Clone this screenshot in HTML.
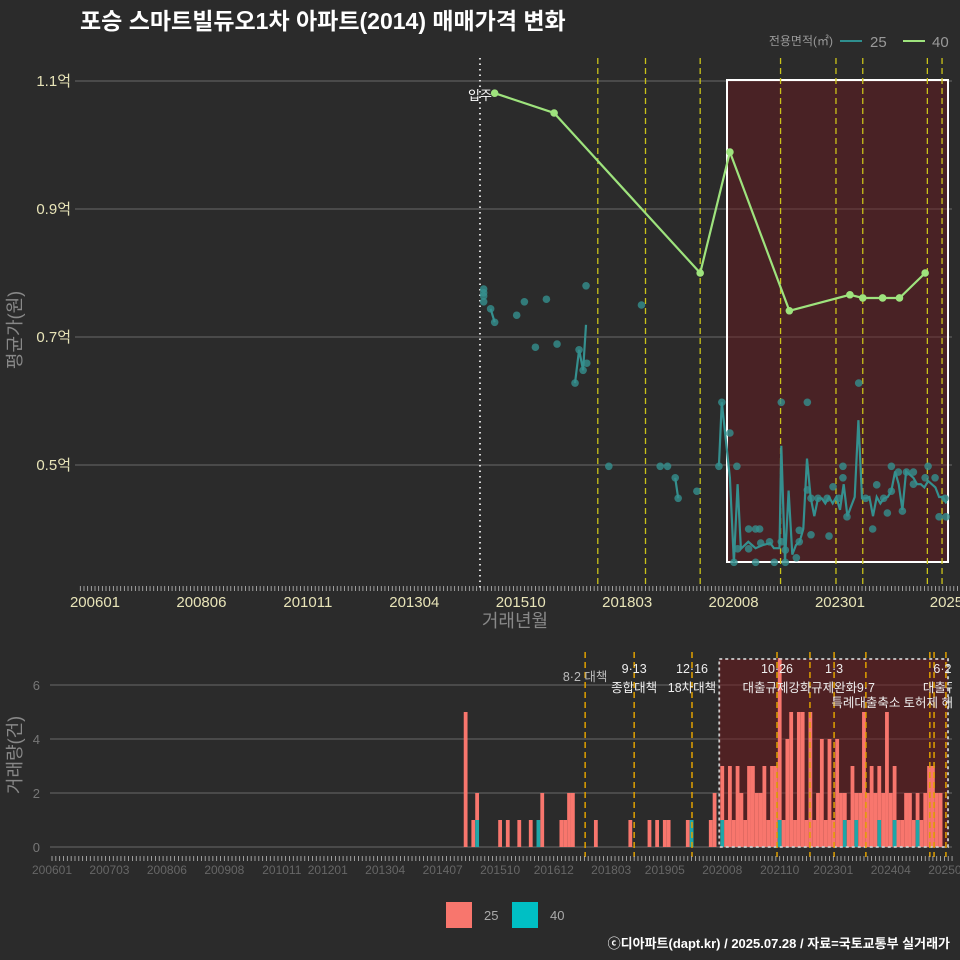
<!DOCTYPE html>
<html><head><meta charset="utf-8">
<style>
html,body{margin:0;padding:0;background:#2b2b2b;}
svg{display:block;font-family:"Liberation Sans","Noto Sans CJK KR",sans-serif;}
</style></head>
<body>
<svg id="chart" width="960" height="960" viewBox="0 0 960 960" xmlns="http://www.w3.org/2000/svg">
<rect width="960" height="960" fill="#2b2b2b"/>
<text x="80" y="29" fill="#fff" font-size="23" font-weight="bold">포승 스마트빌듀오1차 아파트(2014) 매매가격 변화</text>
<g>
<text x="833" y="45" fill="#999" font-size="12" text-anchor="end">전용면적(㎡)</text>
<line x1="840" y1="41" x2="862" y2="41" stroke="#2f8f8f" stroke-width="2"/>
<text x="870" y="47" fill="#999" font-size="15">25</text>
<line x1="903" y1="41" x2="925" y2="41" stroke="#9ee37d" stroke-width="2"/>
<text x="932" y="47" fill="#999" font-size="15">40</text>
</g>
<g id="topchart"></g>
<g id="bottomchart"></g>
<g>
<rect x="446" y="902" width="26" height="26" fill="#f8766d"/>
<text x="484" y="920" fill="#aaa" font-size="13">25</text>
<rect x="512" y="902" width="26" height="26" fill="#00bfc4"/>
<text x="550" y="920" fill="#aaa" font-size="13">40</text>
</g>
<text x="950" y="948" fill="#fff" font-size="13" font-weight="bold" text-anchor="end">ⓒ디아파트(dapt.kr) / 2025.07.28 / 자료=국토교통부 실거래가</text>
</svg>
<script>
// ---- top chart data (month index from 2006-01, price in 억) ----
const yTicks = [0.5, 0.7, 0.9, 1.1];
const yTickLabels = ["0.5억", "0.7억", "0.9억", "1.1억"];
const xTickMonths = [0, 29, 58, 87, 116, 145, 174, 203, 232];
const xTickLabels = ["200601","200806","201011","201304","201510","201803","202008","202301","2025"];
const s40Months = [108.9, 125.1, 164.9, 173, 189.2, 205.7, 209.2, 214.6, 219.2, 226.2];
const s40Values = [1.081, 1.05, 0.8, 0.989, 0.741, 0.766, 0.761, 0.761, 0.761, 0.8];
const s25PointMonths = [105.9,105.9,105.9,105.9,107.8,108.9,114.9,117,123,120,125.9,133.8,130.8,131.9,133,134,140,148.9,154,156,158.1,158.9,164,170,170.8,
 173,174.9,174.1,175.1,178.1,178.1,180,181.1,180,181.4,183.8,185.1,187,187,188.1,188.1,191.1,191.9,191.9,194.1,194.1,195.1,195.1,197,199.5,200,201.1,202.7,203.8,203.8,204.9,208.1,210,211.9,213,214.9,215.9,217,217,218.9,220,221.1,223,223,226.2,227,228.9,230,231.6,231.9];
const s25PointValues = [0.775,0.769,0.764,0.755,0.744,0.723,0.734,0.755,0.759,0.684,0.689,0.78,0.628,0.68,0.648,0.659,0.498,0.75,0.498,0.498,0.48,0.448,0.459,0.498,0.598,
 0.55,0.498,0.348,0.369,0.4,0.369,0.4,0.4,0.348,0.378,0.38,0.348,0.598,0.38,0.348,0.367,0.355,0.38,0.398,0.598,0.461,0.391,0.448,0.448,0.448,0.389,0.466,0.448,0.498,0.48,0.419,0.628,0.448,0.4,0.469,0.448,0.425,0.498,0.459,0.489,0.428,0.489,0.489,0.47,0.48,0.498,0.48,0.419,0.448,0.419];
const s25LineMonths = [107.8,108.9,null,130.8,131.9,133,133.8,null,158.1,158.9,null,170,170.8,173,174.1,175.1,176,178,180,182,184,185,186.5,187,188,189,190,191,192,193,194,195,196,197,198,199,200,201,202,203,204,205,206,207,208,209,210,211,212,213,214,215,216,217,218,219,220,221,222,223,224,225,226,227,228,229,230,231,232];
const s25LineValues = [0.744,0.723,null,0.628,0.68,0.648,0.719,null,0.48,0.448,null,0.498,0.598,0.48,0.348,0.47,0.369,0.38,0.37,0.375,0.378,0.37,0.37,0.53,0.35,0.46,0.36,0.375,0.38,0.40,0.51,0.45,0.42,0.448,0.448,0.44,0.45,0.44,0.45,0.43,0.47,0.42,0.435,0.45,0.57,0.448,0.448,0.45,0.42,0.45,0.44,0.448,0.45,0.46,0.49,0.47,0.43,0.49,0.485,0.48,0.47,0.47,0.465,0.475,0.47,0.465,0.45,0.45,0.44];
const topPolicyMonths = [137, 150, 164.9, 186.8, 201.9, 209.2, 226.8, 230.8];
const moveInMonth = 104.9;

// ---- bottom chart data ----
const volTicks = [0, 2, 4, 6];
const volXTickMonths = [0,15,30,45,60,72,87,102,117,131,146,160,175,190,204,219,234];
const volXTickLabels = ["200601","200703","200806","200908","201011","201201","201304","201407","201510","201612","201803","201905","202008","202110","202301","202404","202507"];
const volMonths = [108,110,111,117,119,122,125,127,128,133,134,135,136,142,151,156,158,160,161,166,167,172,173,
 175,176,177,178,179,180,181,182,183,184,185,186,187,188,189,190,191,192,193,194,195,196,197,198,199,200,201,202,
 203,204,205,206,207,208,209,210,211,212,213,214,215,216,217,218,219,220,221,222,223,224,225,226,227,228,229,230,231,232];
const vol25 = [5,1,1,1,1,1,1,0,2,1,1,2,2,1,1,1,1,1,1,1,0,1,2,
 2,1,3,1,3,2,1,3,3,2,2,3,1,3,3,6,1,4,5,1,5,5,1,5,1,2,4,1,
 4,1,4,2,1,1,3,1,2,5,2,3,2,2,2,5,2,2,1,1,2,2,1,1,1,2,3,3,2,2];
const vol40 = [0,0,1,0,0,0,0,1,0,0,0,0,0,0,0,0,0,0,0,0,1,0,0,
 1,0,0,0,0,0,0,0,0,0,0,0,0,0,0,1,0,0,0,0,0,0,0,0,0,0,0,0,
 0,0,0,0,1,0,0,1,0,0,0,0,0,1,0,0,0,1,0,0,0,0,0,1,0,0,0,0,0,0];
const botPolicyMonths = [139.2, 152, 167.1, 189.3, 197.9, 204.2, 212.5, 229.2, 230.3, 233.4];
const policyTop = ["8·2 대책","9·13","12·16","10·26","1·3","6·27"];
const policyTopMonths = [139.2,152,167.1,189.3,204.2,233.4];
const policyBottom = ["종합대책","18차대책","대출규제강화","규제완화","9·7","대출규제"];
const policyBottomMonths = [152,167.1,189.3,204.2,212.5,233.4];
const policyThird = ["특례대출축소","토허제 해지"];
const policyThirdMonths = [212.5,230.3];

const NS = "http://www.w3.org/2000/svg";
function mk(parent, tag, attrs, text){
  const e = document.createElementNS(NS, tag);
  for (const k in attrs) e.setAttribute(k, attrs[k]);
  if (text !== undefined) e.textContent = text;
  parent.appendChild(e); return e;
}
// top axes
const xT = m => 95 + m*3.67;
const yT = v => 465 - (v-0.5)*640;
const topG = document.getElementById('topchart');
const TL=75, TR=952;
yTicks.forEach((t,i)=>{
  const g = mk(topG,'line',{x1:TL,x2:TR,y1:yT(t),y2:yT(t),stroke:'#6a6a6a','stroke-width':1});
  
  
  const l = mk(topG,'text',{x:71,y:yT(t)+5,fill:'#e8e4b8','font-size':15,'text-anchor':'end'}, yTickLabels[i]);
  
  
});
for(let m=-4;m<=235;m++){
  const t = mk(topG,'line',{x1:xT(m),x2:xT(m),y1:586,y2:591,stroke:'#bbb','stroke-width':0.8});
  
  
}
xTickMonths.forEach((m,i)=>{
  const l = mk(topG,'text',{x:xT(m),y:607,fill:'#e8e4b8','font-size':15,'text-anchor':'middle'}, xTickLabels[i]);
  
  
});
{
  const r = mk(topG,'rect',{x:727,y:80,width:221,height:482,fill:'rgba(110,25,30,0.45)',stroke:'#fff','stroke-width':2});
  
  
  const mv = mk(topG,'line',{x1:xT(moveInMonth),x2:xT(moveInMonth),y1:58,y2:588,stroke:'#ddd','stroke-width':2,'stroke-dasharray':'1.5 4'});
  
  
  const mt = mk(topG,'text',{x:xT(moveInMonth),y:100,fill:'#fff','font-size':13,'text-anchor':'middle'},'입주');
  
  
}
topPolicyMonths.forEach(m=>{
  const l = mk(topG,'line',{x1:xT(m),x2:xT(m),y1:58,y2:588,stroke:'#c9c21a','stroke-width':1.3,'stroke-dasharray':'6 4'});
  
  
});
{
  let d='', pen=false;
  s25LineMonths.forEach((m,i)=>{
    if(m===null){pen=false;return;}
    d += (pen?'L':'M') + xT(m).toFixed(1)+','+yT(s25LineValues[i]).toFixed(1)+' '; pen=true;
  });
  const p = mk(topG,'path',{d:d,fill:'none',stroke:'#35908f','stroke-width':2.2});
  
  
}
s25PointMonths.forEach((m,i)=>{
  const c = mk(topG,'circle',{cx:xT(m),cy:yT(s25PointValues[i]),r:3.8,fill:'#35908f','fill-opacity':0.8});
  
  
});
{
  const d = s40Months.map((m,i)=>(i?'L':'M')+xT(m).toFixed(1)+','+yT(s40Values[i]).toFixed(1)).join(' ');
  const p = mk(topG,'path',{d:d,fill:'none',stroke:'#9ee37d','stroke-width':2.2});
  
  
}
s40Months.forEach((m,i)=>{
  const c = mk(topG,'circle',{cx:xT(m),cy:yT(s40Values[i]),r:3.8,fill:'#9ee37d'});
  
  
});
{
  const a = mk(topG,'text',{x:0,y:0,fill:'#888','font-size':18,'text-anchor':'middle',transform:'translate(21 330) rotate(-90)'},'평균가(원)');
  
  
  const b = mk(topG,'text',{x:515,y:627,fill:'#888','font-size':18,'text-anchor':'middle'},'거래년월');
  
  
}

// bottom chart
const xB = m => 52 + m*3.83;
const yB = v => 847 - v*27;
const botG = document.getElementById('bottomchart');
volTicks.forEach(t=>{
  const g = mk(botG,'line',{x1:50,x2:952,y1:yB(t),y2:yB(t),stroke:'#6a6a6a','stroke-width':1});
  
  
  const l = mk(botG,'text',{x:40,y:yB(t)+5,fill:'#777','font-size':13,'text-anchor':'end'},String(t));
  
  
});
{
  const r = mk(botG,'rect',{x:xB(175)-3,y:659,width:948-xB(175)+3,height:188,fill:'rgba(110,25,30,0.55)'});
  
  
}
volMonths.forEach((m,i)=>{
  const x = xB(m)-1.9, w = 3.8;
  const n40 = vol40[i], n25 = vol25[i];
  if(n40>0){
    const r = mk(botG,'rect',{x:x,y:yB(n40),width:w,height:n40*27,fill:'#1fa6a8'});
    
    
  }
  if(n25>0){
    const r = mk(botG,'rect',{x:x,y:yB(n40+n25),width:w,height:n25*27,fill:'#f8766d'});
    
    
  }
});
{
  const r = mk(botG,'rect',{x:xB(175)-3,y:659,width:948-xB(175)+3,height:188,fill:'none',stroke:'#ccc','stroke-width':1.8,'stroke-dasharray':'3 3'});
  
  
}
botPolicyMonths.forEach(m=>{
  const l = mk(botG,'line',{x1:xB(m),x2:xB(m),y1:652,y2:857,stroke:'#e0a000','stroke-width':1.5,'stroke-dasharray':'6 4'});
  
  
});
const labelG = mk(botG,'g',{});


policyTop.forEach((t,i)=>{
  const y = i===0 ? 681 : 673;
  const l = mk(labelG,'text',{x:xB(policyTopMonths[i]),y:y,fill:i===0?'#bbb':'#eee','font-size':12.5,'text-anchor':'middle'},t);
  
  
});
policyBottom.forEach((t,i)=>{
  const l = mk(labelG,'text',{x:xB(policyBottomMonths[i]),y:692,fill:'#eee','font-size':12.5,'text-anchor':'middle'},t);
  
  
});
policyThird.forEach((t,i)=>{
  const l = mk(labelG,'text',{x:xB(policyThirdMonths[i]),y:707,fill:'#eee','font-size':12.5,'text-anchor':'middle'},t);
  
  
});
{
  const cover = mk(botG,'rect',{x:952,y:640,width:8,height:80,fill:'#2b2b2b'});
  
  
}
for(let m=0;m<=235;m++){
  const t = mk(botG,'line',{x1:xB(m),x2:xB(m),y1:856,y2:861,stroke:'#bbb','stroke-width':0.8});
  
  
}
volXTickLabels.forEach((t,i)=>{
  const l = mk(botG,'text',{x:xB(volXTickMonths[i]),y:874,fill:'#666','font-size':12,'text-anchor':'middle'},t);
  
  
});
{
  const a = mk(botG,'text',{x:0,y:0,fill:'#888','font-size':18,'text-anchor':'middle',transform:'translate(21 755) rotate(-90)'},'거래량(건)');
  
  
}
</script>
</body></html>
